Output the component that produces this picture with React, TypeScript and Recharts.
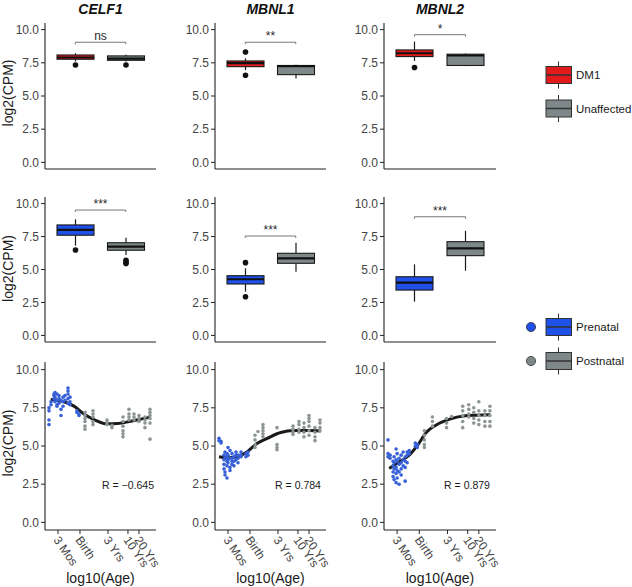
import React from 'react';
import { ComposedChart, Bar, XAxis, YAxis, ReferenceLine, Scatter, Line } from 'recharts';

const FONT = '"Liberation Sans", Arial, Helvetica, sans-serif';
const AXIS = '#222222';
const TICK_TEXT = '#444444';
const RED = '#e31a1c';
const GRAY_BOX = '#7f8888';
const BLUE_BOX = '#1f50e8';
const BLUE_PT = '#3760d8';
const GRAY_PT = '#8d9595';

const genes = ['CELF1', 'MBNL1', 'MBNL2'];
const diseaseGroups = ['DM1', 'Unaffected'];
const ageGroups = ['Prenatal', 'Postnatal'];
const yTicks = [0, 2.5, 5, 7.5, 10];
const ageTicks = [1.955, 2.477, 3.142, 3.617, 3.879];
const ageTickLabels = ['3 Mos', 'Birth', '3 Yrs', '10 Yrs', '20 Yrs'];
const rLabels = ['R = \u22120.645', 'R = 0.784', 'R = 0.879'];

// box statistics per gene: lo whisker, q1, median, q3, hi whisker, outliers
const celf1Disease = [
  { group: 'DM1', lo: 7.6, q1: 7.77, med: 7.9, q3: 8.09, hi: 8.22, out: [7.34] },
  { group: 'Unaffected', lo: 7.6, q1: 7.69, med: 7.82, q3: 8.02, hi: 8.1, out: [7.34] },
];
const mbnl1Disease = [
  { group: 'DM1', lo: 6.96, q1: 7.21, med: 7.47, q3: 7.64, hi: 7.84, out: [8.31, 6.56] },
  { group: 'Unaffected', lo: 6.31, q1: 6.61, med: 7.25, q3: 7.3, hi: 7.35, out: [] },
];
const mbnl2Disease = [
  { group: 'DM1', lo: 7.64, q1: 7.97, med: 8.22, q3: 8.47, hi: 9.1, out: [7.15] },
  { group: 'Unaffected', lo: 7.25, q1: 7.3, med: 8.05, q3: 8.15, hi: 8.2, out: [] },
];
const celf1Age = [
  { group: 'Prenatal', lo: 6.81, q1: 7.6, med: 8.0, q3: 8.38, hi: 8.81, out: [6.48] },
  { group: 'Postnatal', lo: 6.1, q1: 6.46, med: 6.73, q3: 7.03, hi: 7.41, out: [5.7, 5.55, 5.45] },
];
const mbnl1Age = [
  { group: 'Prenatal', lo: 3.32, q1: 3.9, med: 4.26, q3: 4.53, hi: 5.09, out: [5.52, 2.93] },
  { group: 'Postnatal', lo: 4.83, q1: 5.47, med: 5.85, q3: 6.23, hi: 7.03, out: [] },
];
const mbnl2Age = [
  { group: 'Prenatal', lo: 2.56, q1: 3.44, med: 4.0, q3: 4.45, hi: 5.39, out: [] },
  { group: 'Postnatal', lo: 4.91, q1: 6.05, med: 6.61, q3: 7.11, hi: 7.94, out: [] },
];
const diseaseSig = [
  { label: 'ns', y: 9.05 },
  { label: '**', y: 9.05 },
  { label: '*', y: 9.62 },
];
const ageSig = [
  { label: '***', y: 9.51 },
  { label: '***', y: 7.54 },
  { label: '***', y: 9.0 },
];

// scatter samples: [log10(age), log2(CPM)]
const celf1Prenatal = [
  [1.741, 6.4], [1.741, 6.7], [1.741, 7.3], [1.741, 7.5], [1.789, 7.7], [1.789, 7.9],
  [1.86, 8.1], [1.86, 8.4], [1.86, 8.3], [1.884, 8.5], [1.884, 8.2], [1.884, 7.9],
  [1.931, 8.4], [1.931, 8.0], [1.931, 7.7], [1.931, 7.6], [1.979, 8.3], [1.979, 8.1], [1.979, 7.8],
  [2.026, 7.4], [2.026, 7.0], [2.026, 8.0], [2.074, 8.2], [2.074, 7.9], [2.074, 7.6],
  [2.121, 8.3], [2.121, 8.0], [2.192, 8.8], [2.192, 8.6], [2.192, 8.4], [2.192, 8.1], [2.192, 7.8],
  [2.24, 8.2], [2.24, 7.9], [2.24, 7.7], [2.406, 7.3], [2.406, 7.2], [2.454, 7.1], [2.454, 7.0],
];
const celf1Postnatal = [
  [2.596, 7.2], [2.596, 7.0], [2.596, 6.8], [2.596, 6.6], [2.596, 6.3], [2.596, 6.1],
  [2.786, 7.3], [2.786, 7.1], [2.786, 6.9], [2.786, 6.6], [2.786, 6.4],
  [3.119, 6.7], [3.119, 6.55], [3.119, 6.4], [3.237, 6.35], [3.237, 6.2],
  [3.499, 6.9], [3.499, 6.6], [3.499, 6.3], [3.499, 6.0], [3.499, 5.8], [3.499, 5.6],
  [3.641, 7.4], [3.641, 7.1], [3.641, 6.9], [3.641, 6.7], [3.76, 7.1], [3.76, 6.9], [3.76, 6.7],
  [3.879, 7.0], [3.879, 6.8], [3.879, 6.6], [4.021, 6.9], [4.021, 6.7], [4.021, 6.5], [4.021, 6.2],
  [4.14, 7.4], [4.14, 7.2], [4.14, 7.0], [4.14, 6.8], [4.14, 6.5], [4.14, 5.45],
];
const mbnl1Prenatal = [
  [1.741, 5.5], [1.741, 5.35], [1.789, 5.3], [1.789, 5.2],
  [1.86, 4.4], [1.86, 4.1], [1.86, 3.8], [1.86, 3.5], [1.884, 4.6], [1.884, 4.2], [1.884, 3.3], [1.884, 3.1],
  [1.931, 4.5], [1.931, 4.3], [1.931, 4.0], [1.931, 3.7], [1.931, 2.9], [1.955, 4.9], [1.955, 4.4], [1.955, 4.1], [1.955, 3.9],
  [2.002, 4.7], [2.002, 4.2], [2.002, 3.6], [2.002, 3.4], [2.05, 4.5], [2.05, 4.2], [2.05, 4.0], [2.05, 3.8],
  [2.097, 4.3], [2.097, 4.0], [2.097, 3.7], [2.145, 4.6], [2.145, 4.4], [2.145, 4.1],
  [2.192, 4.4], [2.192, 4.2], [2.192, 3.9], [2.264, 4.6], [2.264, 4.4], [2.264, 4.3],
  [2.382, 4.5], [2.382, 4.3], [2.43, 4.6], [2.43, 4.4],
];
const mbnl1Postnatal = [
  [2.596, 5.7], [2.596, 5.4], [2.596, 5.1], [2.596, 4.9], [2.667, 5.95],
  [2.786, 6.4], [2.786, 6.2], [2.786, 6.0], [2.786, 5.8], [2.786, 5.6],
  [3.119, 6.2], [3.119, 5.1], [3.119, 4.9], [3.119, 4.75],
  [3.499, 6.3], [3.499, 6.1], [3.499, 5.9], [3.499, 5.75], [3.641, 6.6], [3.641, 6.4], [3.641, 6.1], [3.641, 5.9],
  [3.76, 6.5], [3.76, 6.2], [3.76, 5.9], [3.76, 5.6], [3.879, 7.0], [3.879, 6.8], [3.879, 6.6], [3.879, 6.3], [3.879, 6.0], [3.879, 5.7],
  [4.021, 6.2], [4.021, 5.9], [4.021, 5.6], [4.021, 5.35], [4.14, 6.7], [4.14, 6.5], [4.14, 6.2], [4.14, 6.0],
];
const mbnl2Prenatal = [
  [1.741, 5.4], [1.741, 4.5], [1.741, 4.3], [1.789, 4.4], [1.789, 4.2],
  [1.86, 4.0], [1.86, 3.7], [1.86, 3.3], [1.86, 3.0], [1.884, 4.3], [1.884, 3.9], [1.884, 3.5], [1.884, 2.8],
  [1.931, 4.8], [1.931, 4.1], [1.931, 3.6], [1.931, 3.2], [1.931, 2.6], [1.955, 4.5], [1.955, 4.0], [1.955, 3.4], [1.955, 2.9],
  [2.002, 4.2], [2.002, 3.8], [2.002, 3.3], [2.002, 2.5], [2.05, 4.4], [2.05, 3.9], [2.05, 3.5], [2.05, 3.1],
  [2.097, 4.6], [2.097, 4.1], [2.097, 3.7], [2.145, 4.3], [2.145, 4.0], [2.145, 3.6], [2.145, 2.7],
  [2.192, 4.6], [2.192, 4.4], [2.192, 3.9], [2.24, 4.7], [2.24, 4.5],
  [2.382, 5.2], [2.382, 5.0], [2.43, 5.1], [2.43, 4.9],
];
const mbnl2Postnatal = [
  [2.596, 6.0], [2.596, 5.7], [2.596, 5.4], [2.596, 5.1], [2.596, 4.9],
  [2.786, 6.9], [2.786, 6.6], [2.786, 6.3], [3.119, 6.8], [3.119, 6.5], [3.119, 6.2], [3.237, 6.93],
  [3.499, 7.6], [3.499, 7.3], [3.499, 7.0], [3.499, 6.6], [3.499, 6.2],
  [3.641, 7.7], [3.641, 7.4], [3.641, 7.1], [3.641, 6.9], [3.76, 7.5], [3.76, 7.2], [3.76, 6.8], [3.76, 6.5],
  [3.879, 7.9], [3.879, 7.3], [3.879, 7.0], [3.879, 6.7], [3.879, 6.4],
  [4.021, 7.3], [4.021, 7.0], [4.021, 6.6], [4.021, 6.3], [4.14, 7.6], [4.14, 7.3], [4.14, 7.0], [4.14, 6.6], [4.14, 6.3],
];
// smoothed fits
const celf1Fit = [
  [1.781, 8.05], [2.097, 7.9], [2.335, 7.61], [2.572, 7.1], [2.81, 6.73],
  [3.126, 6.45], [3.363, 6.47], [3.682, 6.62], [3.919, 6.76], [4.157, 6.89],
];
const mbnl1Fit = [
  [1.741, 4.3], [1.938, 4.23], [2.176, 4.3], [2.413, 4.63], [2.651, 5.18],
  [2.888, 5.5], [3.207, 5.88], [3.522, 6.01], [3.838, 6.01], [4.157, 5.99],
];
const mbnl2Fit = [
  [1.77, 3.53], [2.007, 3.97], [2.245, 4.41], [2.442, 5.07], [2.639, 5.88],
  [2.876, 6.38], [3.195, 6.76], [3.511, 6.97], [3.827, 7.02], [4.145, 7.04],
];

const toXY = (arr: number[][]) => arr.map(([x, y]) => ({ x, y }));

const colLeft = [45, 215, 384];
const colW = [111, 111, 112];
const rowTop = [23, 197, 362];
const rowH = [146, 145, 168];
const Y_AXIS_W = 45;
const AGE_DOMAIN = [1.646, 4.283];

const colorMap: Record<string, string> = {
  DM1: RED,
  Unaffected: GRAY_BOX,
  Prenatal: BLUE_BOX,
  Postnatal: GRAY_BOX,
};

const BoxShape = (props: any) => {
  const { x, y, width, height, payload } = props;
  if (x == null || y == null) return <g />;
  const top = Math.min(y, y + height);
  const bottom = Math.max(y, y + height);
  const { lo, hi, q1, med, q3, out } = payload;
  const py = (v: number) => bottom - ((v - lo) / (hi - lo)) * (bottom - top);
  const cx = x + width / 2;
  return (
    <g>
      <line x1={cx} x2={cx} y1={py(hi)} y2={py(lo)} stroke="#1a1a1a" strokeWidth={1.2} />
      <rect x={x} y={py(q3)} width={width} height={Math.max(py(q1) - py(q3), 0.5)} fill={colorMap[payload.group]} stroke="#1a1a1a" strokeWidth={1.1} />
      <line x1={x} x2={x + width} y1={py(med)} y2={py(med)} stroke="#111" strokeWidth={2.2} />
      {out.map((v: number, i: number) => (
        <circle key={i} cx={cx} cy={py(v)} r={2.8} fill="#111" />
      ))}
    </g>
  );
};

const yAxisProps = {
  type: 'number' as const,
  domain: [-0.5, 10.5],
  allowDataOverflow: true,
  ticks: yTicks,
  interval: 0 as const,
  tickFormatter: (v: number) => v.toFixed(1),
  width: Y_AXIS_W,
  tickSize: 4,
  tickMargin: 2,
  axisLine: { stroke: AXIS, strokeWidth: 1.1 },
  tickLine: { stroke: AXIS },
  tick: { fontSize: 12, fill: TICK_TEXT, fontFamily: FONT },
};

function BoxPanel({ col, row, data, groups, sig }: any) {
  const w = colW[col];
  const h = rowH[row];
  const chartW = Y_AXIS_W + w + 15;
  const chartH = 5 + h + 2 + 3;
  const rows = data.map((d: any) => ({ ...d, range: [d.lo, d.hi] }));
  return (
    <div style={{ position: 'absolute', left: colLeft[col] - Y_AXIS_W, top: rowTop[row] - 5 }}>
      <ComposedChart width={chartW} height={chartH} data={rows} margin={{ top: 5, right: 15, bottom: 3, left: 0 }}>
        <XAxis
          dataKey="group"
          type="category"
          tick={false}
          tickLine={false}
          height={2}
          padding={{ left: 5, right: 5 }}
          axisLine={{ stroke: AXIS, strokeWidth: 1.1 }}
        />
        <YAxis {...yAxisProps} />
        <Bar dataKey="range" barSize={37} isAnimationActive={false} shape={(p: any) => <BoxShape {...p} />} />
        <ReferenceLine
          segment={[{ x: groups[0], y: sig.y }, { x: groups[1], y: sig.y }]}
          stroke="#555"
          strokeWidth={0.8}
          label={{ value: sig.label, position: 'top', offset: 2, fontSize: 12, fill: '#2a2a2a', fontFamily: FONT }}
        />
        <ReferenceLine segment={[{ x: groups[0], y: sig.y }, { x: groups[0], y: sig.y - 0.15 }]} stroke="#555" strokeWidth={0.8} />
        <ReferenceLine segment={[{ x: groups[1], y: sig.y }, { x: groups[1], y: sig.y - 0.15 }]} stroke="#555" strokeWidth={0.8} />
      </ComposedChart>
    </div>
  );
}

const AgeTick = (props: any) => {
  const { x, y, payload } = props;
  const idx = ageTicks.indexOf(payload.value);
  const x0 = x - 5;
  const y0 = y + 4;
  return (
    <text x={x0} y={y0} transform={`rotate(55 ${x0} ${y0})`} fontSize={12} fill={TICK_TEXT} fontFamily={FONT} textAnchor="start">
      {idx >= 0 ? ageTickLabels[idx] : ''}
    </text>
  );
};

function ScatterPanel({ col, pre, post, fit }: any) {
  const row = 2;
  const w = colW[col];
  const h = rowH[row];
  const chartW = Y_AXIS_W + w + 15;
  const chartH = 5 + h + 50;
  const dot = (color: string) => (p: any) => <circle cx={p.cx} cy={p.cy} r={1.8} fill={color} />;
  return (
    <div style={{ position: 'absolute', left: colLeft[col] - Y_AXIS_W, top: rowTop[row] - 5 }}>
      <ComposedChart width={chartW} height={chartH} margin={{ top: 5, right: 15, bottom: 0, left: 0 }}>
        <XAxis
          type="number"
          dataKey="x"
          domain={AGE_DOMAIN}
          allowDataOverflow
          ticks={ageTicks}
          interval={0}
          height={50}
          tickSize={4}
          tickMargin={2}
          tick={<AgeTick />}
          axisLine={{ stroke: AXIS, strokeWidth: 1.1 }}
          tickLine={{ stroke: AXIS }}
        />
        <YAxis {...yAxisProps} dataKey="y" />
        <Scatter data={toXY(post)} dataKey="y" fill={GRAY_PT} shape={dot(GRAY_PT)} isAnimationActive={false} />
        <Scatter data={toXY(pre)} dataKey="y" fill={BLUE_PT} shape={dot(BLUE_PT)} isAnimationActive={false} />
        <Line data={toXY(fit)} dataKey="y" type="monotone" stroke="#1a1a1a" strokeWidth={3} dot={false} activeDot={false} isAnimationActive={false} />
      </ComposedChart>
    </div>
  );
}

function LegendKey({ y, color, label, circle }: any) {
  return (
    <g>
      {circle && <circle cx={531} cy={y} r={4.6} fill={color} stroke="#333" strokeWidth={0.8} />}
      <line x1={558.5} x2={558.5} y1={y - 13.5} y2={y + 13.5} stroke="#333" strokeWidth={1} />
      <rect x={546} y={y - 8.5} width={25.5} height={17} fill={color} stroke="#333" strokeWidth={1} />
      <line x1={546} x2={571.5} y1={y} y2={y} stroke="#333" strokeWidth={1.5} />
      <text x={576} y={y + 4} fontSize={11.5} fill="#1a1a1a" fontFamily={FONT}>{label}</text>
    </g>
  );
}

export default function App() {
  const diseaseData = [celf1Disease, mbnl1Disease, mbnl2Disease];
  const ageData = [celf1Age, mbnl1Age, mbnl2Age];
  const pres = [celf1Prenatal, mbnl1Prenatal, mbnl2Prenatal];
  const posts = [celf1Postnatal, mbnl1Postnatal, mbnl2Postnatal];
  const fits = [celf1Fit, mbnl1Fit, mbnl2Fit];
  const yLabelCenters = [93, 268.5, 443];
  return (
    <div style={{ position: 'absolute', left: 0, top: 0, width: 632, height: 587, background: '#fff', fontFamily: FONT }}>
      {genes.map((g, c) => (
        <BoxPanel key={'d' + g} col={c} row={0} data={diseaseData[c]} groups={diseaseGroups} sig={diseaseSig[c]} />
      ))}
      {genes.map((g, c) => (
        <BoxPanel key={'a' + g} col={c} row={1} data={ageData[c]} groups={ageGroups} sig={ageSig[c]} />
      ))}
      {genes.map((g, c) => (
        <ScatterPanel key={'s' + g} col={c} pre={pres[c]} post={posts[c]} fit={fits[c]} />
      ))}
      <svg width={632} height={587} style={{ position: 'absolute', left: 0, top: 0, pointerEvents: 'none' }}>
        {genes.map((g, c) => (
          <text key={'t' + g} x={colLeft[c] + colW[c] / 2} y={13.5} textAnchor="middle" fontSize={14} fontWeight="bold" fontStyle="italic" fill="#111" fontFamily={FONT}>
            {g}
          </text>
        ))}
        {yLabelCenters.map((yc, i) => (
          <text key={'yl' + i} transform={`translate(12.5 ${yc}) rotate(-90)`} textAnchor="middle" fontSize={14} fill="#1a1a1a" fontFamily={FONT}>
            log2(CPM)
          </text>
        ))}
        {genes.map((g, c) => (
          <text key={'xl' + g} x={colLeft[c] + colW[c] / 2} y={583} textAnchor="middle" fontSize={14} fill="#1a1a1a" fontFamily={FONT}>
            log10(Age)
          </text>
        ))}
        {rLabels.map((r, c) => (
          <text key={'r' + c} x={colLeft[c] + 83} y={489} textAnchor="middle" fontSize={10.5} fill="#1a1a1a" fontFamily={FONT}>
            {r}
          </text>
        ))}
        <LegendKey y={75} color={RED} label={diseaseGroups[0]} />
        <LegendKey y={108.5} color={GRAY_BOX} label={diseaseGroups[1]} />
        <LegendKey y={327} color={BLUE_BOX} label={ageGroups[0]} circle />
        <LegendKey y={361} color={GRAY_BOX} label={ageGroups[1]} circle />
      </svg>
    </div>
  );
}
